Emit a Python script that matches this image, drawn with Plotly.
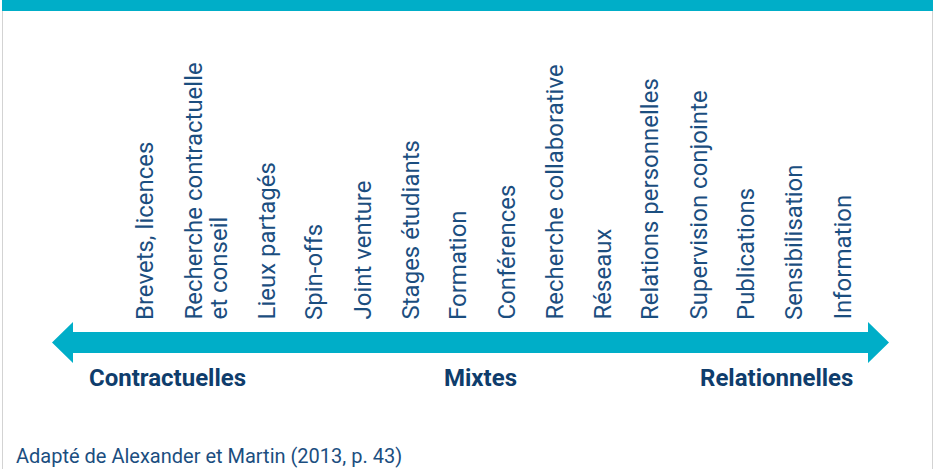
import plotly.graph_objects as go

# ---- data ----
categories = [
    "Brevets, licences",
    "Recherche contractuelle\net conseil",
    "Lieux partagés",
    "Spin-offs",
    "Joint venture",
    "Stages étudiants",
    "Formation",
    "Conférences",
    "Recherche collaborative",
    "Réseaux",
    "Relations personnelles",
    "Supervision conjointe",
    "Publications",
    "Sensibilisation",
    "Information",
]
groups = ["Contractuelles", "Mixtes", "Relationnelles"]
source = "Adapté de Alexander et Martin (2013, p. 43)"

# ---- styling / layout ----
W, H = 936, 469
TEAL = "#00AEC8"
TXT = "#1B4E7F"
BOLD = "#0F3D6C"
FONT = "Roboto"

LINE_H = 25.0       # spacing between lines inside one label
PITCH = 48.0        # spacing between successive labels
FIRST_CENTER = 145.0
LABEL_BOTTOM = 322

ARROW_L, ARROW_R = 52, 889
HEAD_LEN = 21
SHAFT_T, SHAFT_B = 332, 353
HEAD_T, HEAD_B = 322, 363

fig = go.Figure()

# invisible trace to anchor axes
fig.add_trace(go.Scatter(x=[0, W], y=[0, H], mode="markers",
                         marker=dict(opacity=0), hoverinfo="skip", showlegend=False))

# arrow (double-headed)
ymid = (HEAD_T + HEAD_B) / 2
ax = [ARROW_L, ARROW_L + HEAD_LEN, ARROW_L + HEAD_LEN, ARROW_R - HEAD_LEN, ARROW_R - HEAD_LEN,
      ARROW_R, ARROW_R - HEAD_LEN, ARROW_R - HEAD_LEN, ARROW_L + HEAD_LEN, ARROW_L + HEAD_LEN, ARROW_L]
ay = [ymid, HEAD_T, SHAFT_T, SHAFT_T, HEAD_T, ymid, HEAD_B, SHAFT_B, SHAFT_B, HEAD_B, ymid]
fig.add_trace(go.Scatter(x=ax, y=ay, mode="lines", fill="toself", fillcolor=TEAL,
                         line=dict(width=0, color=TEAL), hoverinfo="skip", showlegend=False))

annotations = []
# category labels, laid out as columns of text lines
extra = 0
for k, lab in enumerate(categories):
    lines = lab.split("\n")
    for j, ln in enumerate(lines):
        xc = FIRST_CENTER + k * PITCH + (extra + j) * LINE_H
        annotations.append(dict(
            x=xc, y=LABEL_BOTTOM, xref="x", yref="y",
            text=ln, showarrow=False, textangle=-90,
            xanchor="center", yanchor="bottom",
            font=dict(family=FONT, size=24, color=TXT)))
    extra += len(lines) - 1

# group labels under the arrow
gx = [87, (ARROW_L + ARROW_R) / 2 + 10, 855]
ganchor = ["left", "center", "right"]
for g, x, a in zip(groups, gx, ganchor):
    annotations.append(dict(x=x, y=378, xref="x", yref="y", text="<b>%s</b>" % g,
                            showarrow=False, xanchor=a, yanchor="middle",
                            font=dict(family=FONT, size=24, color=BOLD)))

annotations.append(dict(x=14, y=456, xref="x", yref="y", text=source, showarrow=False,
                        xanchor="left", yanchor="middle",
                        font=dict(family=FONT, size=20, color=TXT)))

shapes = [
    dict(type="rect", xref="x", yref="y", x0=2, x1=933, y0=0, y1=11,
         fillcolor=TEAL, line=dict(width=0), layer="below"),
    dict(type="line", xref="x", yref="y", x0=2.5, x1=2.5, y0=11, y1=H,
         line=dict(color="#D3D3D3", width=1)),
    dict(type="line", xref="x", yref="y", x0=932.5, x1=932.5, y0=11, y1=H,
         line=dict(color="#D3D3D3", width=1)),
]

fig.update_layout(
    width=W, height=H,
    margin=dict(l=0, r=0, t=0, b=0),
    paper_bgcolor="white", plot_bgcolor="white",
    xaxis=dict(range=[0, W], visible=False, fixedrange=True),
    yaxis=dict(range=[H, 0], visible=False, fixedrange=True),
    annotations=annotations, shapes=shapes,
    showlegend=False,
)

fig.write_html("out.html", config={"displayModeBar": False},
               post_script="document.body.style.margin='0';document.body.style.overflow='hidden';")
